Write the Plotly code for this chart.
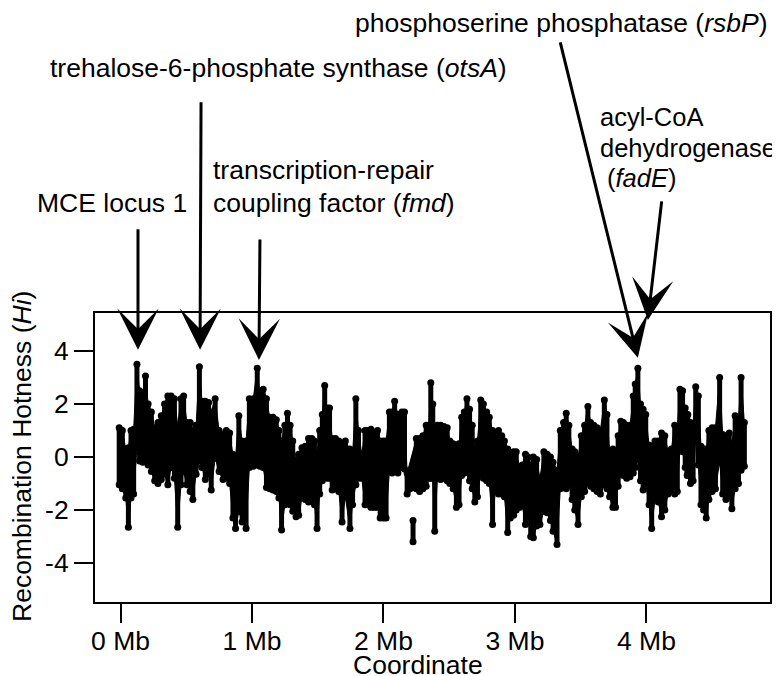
import plotly.graph_objects as go

# Recombination hotness envelope: position (Mb), top and bottom of the band
pos_mb = [
    -0.01, 0.014, 0.04, 0.06, 0.08, 0.10, 0.125, 0.145, 0.17, 0.19,
    0.21, 0.235, 0.26, 0.285, 0.31, 0.335, 0.36, 0.385, 0.41, 0.435,
    0.46, 0.48, 0.505, 0.53, 0.55, 0.575, 0.60, 0.62, 0.645, 0.67,
    0.69, 0.72, 0.75, 0.78, 0.805, 0.83, 0.855, 0.875, 0.90, 0.925,
    0.955, 0.98, 1.01, 1.04, 1.06, 1.085, 1.11, 1.135, 1.16, 1.185,
    1.205, 1.225, 1.25, 1.27, 1.29, 1.31, 1.335, 1.355, 1.38, 1.405,
    1.43, 1.455, 1.475, 1.495, 1.515, 1.535, 1.553, 1.57, 1.59, 1.61,
    1.635, 1.66, 1.685, 1.71, 1.745, 1.765, 1.79, 1.81, 1.835, 1.86,
    1.88, 1.905, 1.93, 1.955, 1.975, 2.0, 2.02, 2.045, 2.065, 2.085,
    2.11, 2.14, 2.16, 2.18, 2.25, 2.275, 2.30, 2.325, 2.345,
    2.36, 2.375, 2.39, 2.41, 2.435, 2.46, 2.485, 2.505, 2.53, 2.555,
    2.575, 2.595, 2.615, 2.635, 2.655, 2.675, 2.695, 2.715, 2.74, 2.76,
    2.785, 2.805, 2.83, 2.85, 2.875, 2.90, 2.92, 2.945, 2.965, 2.99,
    3.01, 3.035, 3.055, 3.08, 3.10, 3.12, 3.14, 3.165, 3.19, 3.22,
    3.245, 3.27, 3.29, 3.32, 3.345, 3.37, 3.39, 3.41, 3.435, 3.455,
    3.48, 3.505, 3.53, 3.555, 3.575, 3.60, 3.625, 3.65, 3.68, 3.70,
    3.72, 3.745, 3.765, 3.785, 3.805, 3.825, 3.85, 3.875, 3.90, 3.915,
    3.935, 3.955, 3.975, 3.995, 4.02, 4.04, 4.065, 4.09, 4.115, 4.14,
    4.165, 4.19, 4.215, 4.235, 4.255, 4.275, 4.295, 4.315, 4.335, 4.355,
    4.375, 4.395, 4.415, 4.435, 4.455, 4.475, 4.50, 4.525, 4.557, 4.58,
    4.605, 4.63, 4.65, 4.675, 4.70, 4.72, 4.745,
]
hot_hi = [
    1.1, 1.0, 0.3, 0.35, 1.0, 1.05, 3.5, 2.5, 2.35, 3.05,
    2.0, 1.7, 1.1, 1.3, 1.55, 2.0, 2.3, 2.3, 2.2, 1.2,
    2.2, 2.3, 1.3, 1.3, 1.0, 1.2, 3.4, 2.1, 2.1, 2.05,
    1.7, 2.2, 1.0, 0.85, 1.0, 0.9, 0.1, 0.0, 1.55, 0.6,
    0.6, 2.2, 2.2, 3.35, 2.35, 2.55, 2.2, 1.5, 1.5, 1.4,
    1.0, 0.6, 1.2, 1.65, 1.2, 0.6, -0.15, 0.1, 0.35, 0.4,
    0.7, 0.7, 0.6, 0.1, 1.0, 1.6, 2.7, 1.85, 1.85, 0.7,
    0.7, 0.6, 0.45, 0.6, 0.3, 0.1, 2.2, 1.0, 0.1, 1.0,
    1.0, 1.05, 0.9, 1.0, 0.6, 0.6, 0.6, 1.7, 1.7, 2.1,
    1.6, 1.7, 1.7, -0.6, 0.7, 0.7, 0.8, 1.2, 1.2,
    2.8, 2.0, 0.2, 1.2, 1.2, 1.15, 1.1, 0.6, 0.5, 0.45,
    0.5, 1.5, 1.7, 2.2, 1.8, 1.2, 0.3, 0.6, 2.15, 2.0,
    1.7, 1.5, 1.0, 0.9, 1.0, 0.8, 0.6, 0.3, 0.1, 0.2,
    0.2, -0.4, -0.3, 0.1, 0.0, -0.3, 0.0, -0.1, -0.8, 0.2,
    0.1, 0.0, -0.2, -0.5, 1.0, 1.3, 1.65, 1.2, 0.3, 0.2,
    0.0, 0.8, 1.2, 1.9, 1.3, 1.2, 1.1, 1.0, 2.15, 1.6,
    0.2, 0.3, 0.1, 0.8, 1.35, 1.3, 1.2, 1.2, 2.3, 2.75,
    3.35, 2.0, 1.8, 1.6, 0.45, 0.4, 0.6, 0.6, 0.9, 0.8,
    0.2, 0.3, 1.2, 1.1, 2.55, 2.5, 1.85, 1.6, 1.3, 1.2,
    2.65, 2.3, 0.4, 0.3, 0.3, 1.0, 1.1, 1.1, 3.0, 0.85,
    0.8, 0.9, 0.5, 1.55, 1.4, 3.0, 1.3,
]
hot_lo = [
    -1.05, -1.2, -1.55, -2.65, -1.55, -1.4, 0.35, -0.15, -0.2, -0.05,
    -0.3, -0.55, -0.9, -1.0, -0.85, -0.65, -1.05, -0.4, -0.8, -2.65,
    -1.05, -0.55, -1.05, -1.3, -1.6, -0.65, -0.15, -0.4, -0.85, -0.65,
    -1.25, -0.05, -0.55, -0.85, -0.8, -1.0, -2.3, -2.7, -2.05, -2.45,
    -2.7, -0.4, -0.35, -0.3, -0.35, -0.4, -1.15, -1.2, -1.25, -1.3,
    -1.55, -2.75, -1.8, -1.7, -1.8, -2.05, -2.25, -2.2, -1.55, -1.6,
    -1.7, -1.6, -1.8, -2.7, -1.4, -0.9, -0.6, -0.8, -0.8, -1.25,
    -1.2, -1.3, -2.45, -1.5, -2.7, -1.8, -1.05, -0.8, -0.8, -1.8,
    -1.8, -1.9, -1.9, -1.9, -2.3, -2.3, -2.3, -0.55, -0.6, -0.55,
    -0.6, -0.4, -0.45, -1.4, -1.2, -1.3, -1.2, -1.1, -0.8,
    -0.8, -0.8, -2.8, -0.8, -0.85, -0.8, -0.9, -1.0, -1.2, -1.9,
    -1.8, -0.7, -0.6, -0.5, -0.9, -1.2, -1.7, -1.5, -0.6, -0.8,
    -0.9, -1.0, -2.55, -1.3, -1.4, -1.4, -1.5, -2.85, -2.3, -2.2,
    -2.0, -1.9, -1.8, -2.55, -2.2, -3.0, -3.05, -2.6, -2.55, -2.05,
    -2.1, -2.4, -2.8, -3.3, -1.2, -1.1, -1.2, -1.0, -1.6, -2.0,
    -2.55, -1.5, -1.3, -1.0, -1.1, -1.2, -1.3, -1.4, -1.05, -1.2,
    -1.5, -1.9, -1.9, -1.1, -0.65, -0.7, -0.8, -0.75, -0.6, -0.4,
    -0.1, -0.9, -1.25, -1.0, -1.8, -2.7, -1.6, -1.7, -2.25, -2.0,
    -1.4, -1.3, -1.4, -1.3, 0.3, 0.2, -0.4, -0.6, -1.0, -0.9,
    0.7, -0.3, -1.8, -2.0, -2.3, -1.6, -1.3, -1.2, -0.2, -1.4,
    -1.6, -1.5, -1.95, -1.2, -1.0, -0.5, -0.35,
]

# small detached clusters below the band
iso_mb = [2.225, 4.31]
iso_hi = [-2.4, -0.4]
iso_lo = [-3.2, -0.7]

x_tick_vals = [0, 1, 2, 3, 4]
x_tick_text = ["0 Mb", "1 Mb", "2 Mb", "3 Mb", "4 Mb"]
y_tick_vals = [-4, -2, 0, 2, 4]
y_tick_text = ["-4", "-2", "0", "2", "4"]

# arrow tips (Mb, Hi) and tail offsets (px)
arrow_tip_mb = [0.133, 0.605, 1.053, 3.935, 4.011]
arrow_tip_hi = [4.04, 4.04, 3.66, 3.74, 5.17]
arrow_ax = [0, 1, 1, -78, 14]
arrow_ay = [-122, -249, -122, -317, -120]

FONT = "Liberation Sans, Arial, sans-serif"
FS = 26.5

# each sample becomes a vertical stroke from bottom to top of the band
seg_x, seg_y = [], []
for p, h, l in zip(pos_mb + iso_mb, hot_hi + iso_hi, hot_lo + iso_lo):
    seg_x += [p, p, None]
    seg_y += [l, h, None]

fig = go.Figure()
# solid core of the band (top edge forward, bottom edge back)
fig.add_trace(go.Scatter(
    x=pos_mb + pos_mb[::-1], y=hot_hi + hot_lo[::-1],
    fill="toself", fillcolor="black", mode="lines",
    line=dict(color="black", width=1), hoverinfo="skip",
))
fig.add_trace(go.Scatter(
    x=seg_x, y=seg_y, mode="lines+markers",
    line=dict(color="black", width=5),
    marker=dict(color="black", size=7),
    hoverinfo="skip",
))

annotations = []
for tx, ty, ax, ay in zip(arrow_tip_mb, arrow_tip_hi, arrow_ax, arrow_ay):
    annotations.append(dict(
        x=tx, y=ty, xref="x", yref="y", ax=ax, ay=ay, text="",
        showarrow=True, arrowhead=3, arrowwidth=3, arrowsize=2.3,
        arrowcolor="black",
    ))

def paper_x(px):
    return (px - 87) / 675

def paper_y(py):
    return (594 - py) / 289

labels = [
    ("phosphoserine phosphatase (<i>rsbP</i>)", 345, 15, FS),
    ("trehalose-6-phosphate synthase (<i>otsA</i>)", 40, 60, FS),
    ("acyl-CoA", 590, 109, 25.5),
    ("dehydrogenase", 590, 140, 25.5),
    ("(<i>fadE</i>)", 597, 170, 25.5),
    ("transcription-repair", 203, 162, FS),
    ("coupling factor (<i>fmd</i>)", 203, 195, FS),
    ("MCE locus 1", 27, 195, FS),
]
for txt, px, py, fs in labels:
    annotations.append(dict(
        text=txt, x=paper_x(px), y=paper_y(py), xref="paper", yref="paper",
        xanchor="left", yanchor="middle", showarrow=False,
        font=dict(family=FONT, size=fs, color="black"),
    ))

# axis titles
annotations.append(dict(
    text="Recombination Hotness (<i>Hi</i>)", x=paper_x(14), y=paper_y(449),
    xref="paper", yref="paper", xanchor="center", yanchor="middle",
    textangle=-90, showarrow=False, font=dict(family=FONT, size=FS, color="black"),
))
annotations.append(dict(
    text="Coordinate", x=paper_x(410), y=paper_y(657),
    xref="paper", yref="paper", xanchor="center", yanchor="middle",
    showarrow=False, font=dict(family=FONT, size=FS, color="black"),
))

fig.update_layout(
    width=780, height=676,
    margin=dict(l=87, r=18, t=305, b=82),
    paper_bgcolor="white", plot_bgcolor="white",
    showlegend=False,
    font=dict(family=FONT, size=FS, color="black"),
    annotations=annotations,
)
fig.update_xaxes(
    range=[-0.194, 4.94], tickvals=x_tick_vals, ticktext=x_tick_text,
    ticks="outside", ticklen=19, tickwidth=2, tickcolor="black",
    showline=True, linewidth=2, linecolor="black", mirror=True,
    showgrid=False, zeroline=False, tickfont=dict(size=FS),
    ticklabelstandoff=-5,
)
fig.update_yaxes(
    range=[-5.47, 5.43], tickvals=y_tick_vals, ticktext=y_tick_text,
    ticks="outside", ticklen=19, tickwidth=2, tickcolor="black",
    showline=True, linewidth=2, linecolor="black", mirror=True,
    showgrid=False, zeroline=False, tickfont=dict(size=FS),
)

fig.write_html("out.html")
